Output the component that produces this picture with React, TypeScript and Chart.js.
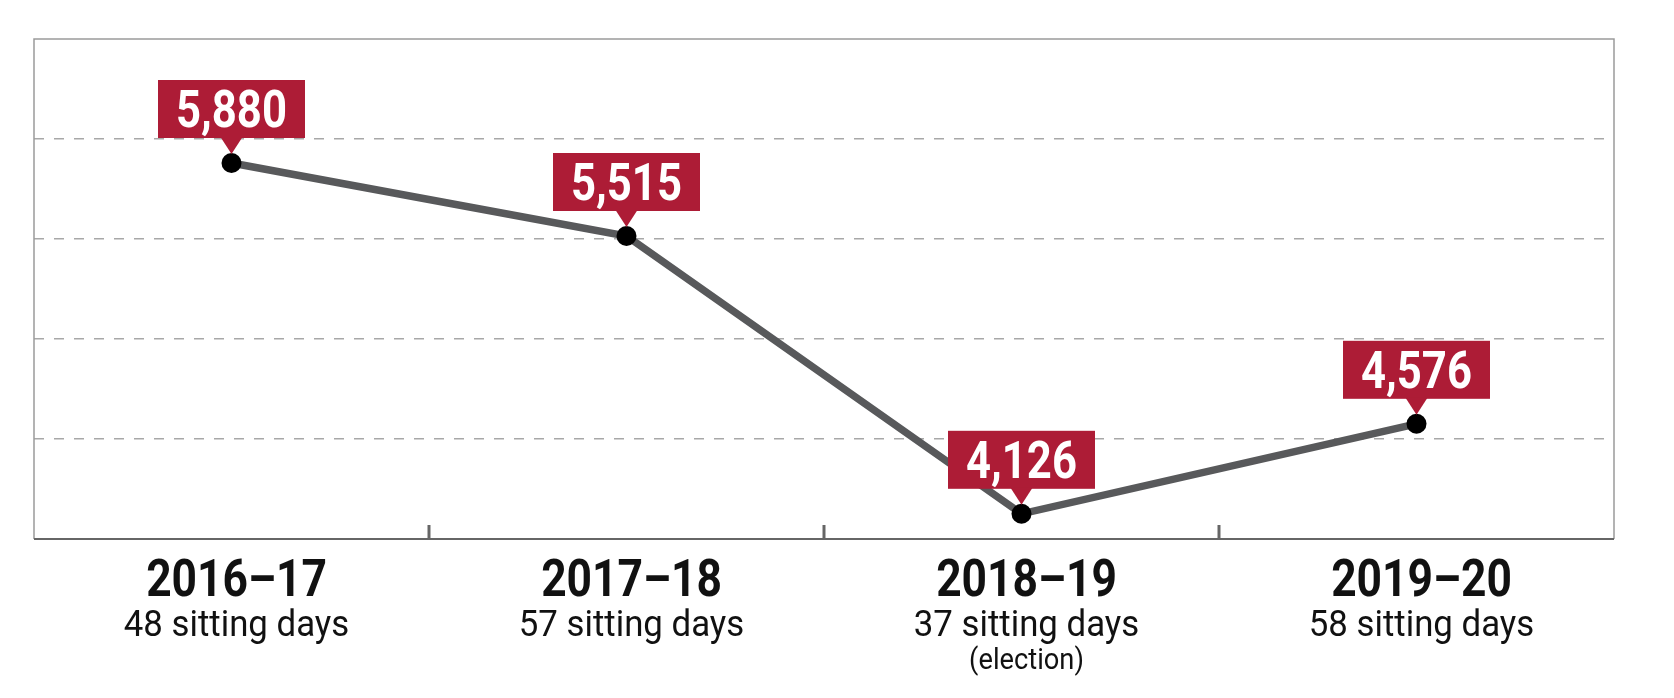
import { useEffect, useRef } from "react";
import { Chart, registerables } from "chart.js";

Chart.register(...registerables);

const seasons = ["2016–17", "2017–18", "2018–19", "2019–20"];
const sittingDays = ["48 sitting days", "57 sitting days", "37 sitting days", "58 sitting days"];
const notes = ["", "", "(election)", ""];
const counts = [5880, 5515, 4126, 4576];
const yTicks = [4000, 4500, 5000, 5500, 6000, 6500];

const RED = "#ad1c36";
const FONT = "Roboto, 'Liberation Sans', sans-serif";

// draws centred text squeezed horizontally to imitate a condensed face
function narrowText(ctx: CanvasRenderingContext2D, text: string, x: number, y: number, sx: number) {
  ctx.save();
  ctx.translate(x, y);
  ctx.scale(sx, 1);
  ctx.textAlign = "center";
  ctx.textBaseline = "alphabetic";
  ctx.fillText(text, 0, 0);
  ctx.restore();
}

// frame, inner tick marks and the two-line category labels
const framePlugin = {
  id: "frame",
  beforeDatasetsDraw(chart: any) {
    const { ctx, chartArea: a, scales } = chart;
    const xs = scales.x;
    ctx.save();
    ctx.strokeStyle = "#9a9a9a";
    ctx.lineWidth = 1.5;
    ctx.beginPath();
    ctx.moveTo(a.left, a.bottom);
    ctx.lineTo(a.left, a.top);
    ctx.lineTo(a.right, a.top);
    ctx.lineTo(a.right, a.bottom);
    ctx.stroke();

    ctx.strokeStyle = "#666";
    ctx.lineWidth = 2;
    ctx.beginPath();
    ctx.moveTo(a.left, a.bottom);
    ctx.lineTo(a.right, a.bottom);
    ctx.stroke();

    ctx.lineWidth = 3;
    for (let i = 1; i < seasons.length; i++) {
      const px = (xs.getPixelForValue(i - 1) + xs.getPixelForValue(i)) / 2;
      ctx.beginPath();
      ctx.moveTo(px, a.bottom);
      ctx.lineTo(px, a.bottom - 14);
      ctx.stroke();
    }

    ctx.fillStyle = "#111";
    seasons.forEach((s, i) => {
      const px = xs.getPixelForValue(i) + 5;
      ctx.font = `bold 51px ${FONT}`;
      narrowText(ctx, s, px, a.bottom + 57, 0.87);
      ctx.font = `37px ${FONT}`;
      narrowText(ctx, sittingDays[i], px, a.bottom + 97, 0.94);
      if (notes[i]) {
        ctx.font = `29px ${FONT}`;
        narrowText(ctx, notes[i], px, a.bottom + 130, 0.94);
      }
    });
    ctx.restore();
  },
};

// red value callouts above each point
const calloutPlugin = {
  id: "callouts",
  afterDatasetsDraw(chart: any) {
    const { ctx } = chart;
    const meta = chart.getDatasetMeta(0);
    const sx = 0.84;
    ctx.save();
    meta.data.forEach((pt: any, i: number) => {
      const { x, y } = pt;
      const text = counts[i].toLocaleString("en-US");
      ctx.font = `bold 52px ${FONT}`;
      const w = ctx.measureText(text).width * sx + 36;
      const h = 58;
      const bottom = y - 25;
      ctx.fillStyle = RED;
      ctx.fillRect(x - w / 2, bottom - h, w, h);
      ctx.beginPath();
      ctx.moveTo(x - 11, bottom - 1);
      ctx.lineTo(x + 11, bottom - 1);
      ctx.lineTo(x, y - 9);
      ctx.closePath();
      ctx.fill();
      ctx.fillStyle = "#fff";
      narrowText(ctx, text, x, bottom - 11, sx);
    });
    ctx.restore();
  },
};

export default function App() {
  const chartRef = useRef<HTMLCanvasElement>(null);
  const chartInstance = useRef<Chart | null>(null);

  useEffect(() => {
    if (!chartRef.current) return;
    if (chartInstance.current) chartInstance.current.destroy();
    const ctx = chartRef.current.getContext("2d");
    if (!ctx) return;

    const yMin = yTicks[0];
    const yMax = yTicks[yTicks.length - 1];

    chartInstance.current = new Chart(ctx, {
      type: "line",
      data: {
        labels: seasons,
        datasets: [
          {
            data: counts,
            borderColor: "#58595b",
            borderWidth: 7.5,
            pointRadius: 10,
            pointHoverRadius: 10,
            pointBackgroundColor: "#000",
            pointBorderWidth: 0,
            tension: 0,
            clip: false as any,
          },
        ],
      },
      options: {
        responsive: true,
        maintainAspectRatio: false,
        animation: false,
        layout: { padding: { left: 34, right: 60, top: 39, bottom: 159 } },
        plugins: {
          legend: { display: false },
          tooltip: { enabled: false },
        },
        scales: {
          x: {
            type: "category",
            offset: true,
            display: false,
          },
          y: {
            min: yMin,
            max: yMax,
            afterBuildTicks: (s: any) => {
              s.ticks = yTicks.map((v) => ({ value: v }));
            },
            ticks: { display: false },
            border: { display: false, dash: [10, 10] },
            grid: {
              drawTicks: false,
              lineWidth: 1.5,
              color: (c: any) =>
                c.tick && c.tick.value > yMin && c.tick.value < yMax ? "#a8a8a8" : "rgba(0,0,0,0)",
            },
          },
        },
      },
      plugins: [framePlugin, calloutPlugin],
    });

    return () => {
      if (chartInstance.current) {
        chartInstance.current.destroy();
        chartInstance.current = null;
      }
    };
  }, []);

  return (
    <div style={{ position: "absolute", left: 0, top: 0, width: 1674, height: 698, background: "#fff" }}>
      <canvas ref={chartRef} />
    </div>
  );
}
